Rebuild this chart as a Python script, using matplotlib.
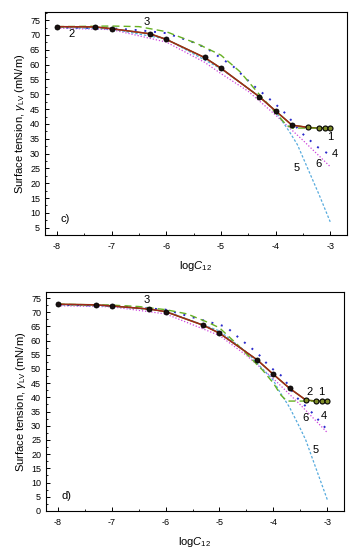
import matplotlib
matplotlib.use("Agg")
import matplotlib.pyplot as plt
from matplotlib.ticker import MultipleLocator

plt.rcParams['font.family'] = ['Liberation Sans', 'DejaVu Sans']
plt.rcParams['mathtext.fontset'] = 'custom'
plt.rcParams['mathtext.rm'] = 'Liberation Sans'
plt.rcParams['mathtext.it'] = 'Liberation Sans:italic'
plt.rcParams['mathtext.bf'] = 'Liberation Sans:bold'

# ---- data ----
logC = [-8, -7.3, -7, -6.3, -6, -5.3, -5, -4.3, -4, -3.7, -3.4, -3.2, -3.1, -3.0]

# panel c)
c_exp = [72.8, 72.7, 72.1, 70.4, 68.5, 62.4, 58.8, 49.2, 44.4, 39.6, 38.8, 38.6, 38.6, 38.6]
c_x3 = [-8, -7, -6.5, -6, -5.44, -5, -4.65, -4.3, -4, -3.8, -3.7, -3.0]
c_y3 = [72.8, 73.0, 72.8, 71.1, 67.1, 63.2, 57.6, 50.0, 43.8, 39.6, 38.6, 38.6]
c_x4 = [-8, -7, -6.5, -6, -5.5, -5.26, -4.77, -4.41, -4.16, -3.95, -3.79, -3.55, -3.24, -3.0]
c_y4 = [72.6, 72.2, 71.6, 70.6, 67.5, 65.5, 59.3, 53.0, 49.2, 45.8, 43.0, 37.4, 32.3, 29.5]
c_x5 = [-8, -7, -6, -5, -4.5, -4.2, -4, -3.9, -3.75, -3.6, -3.4, -3.2, -3.0]
c_y5 = [72.6, 72.0, 68.6, 58.6, 52.0, 47.8, 44.2, 41.5, 37.5, 33.0, 24.5, 16.0, 7.0]
c_x6 = [-8, -7, -6, -5.3, -5, -4.5, -4, -3.5, -3.0]
c_y6 = [72.3, 71.8, 67.6, 60.8, 57.0, 51.0, 43.0, 34.5, 25.6]

# panel d)
d_exp = [72.8, 72.6, 72.2, 71.1, 70.2, 65.4, 62.6, 53.2, 48.1, 43.2, 39.1, 38.7, 38.7, 38.7]
d_x3 = [-8, -7, -6.5, -6, -5.6, -5.2, -5, -4.69, -4.2, -4, -3.86, -3.75, -3.0]
d_y3 = [72.8, 72.5, 72.0, 70.9, 69.4, 66.3, 64.5, 59.0, 49.6, 45.0, 40.8, 38.7, 38.7]
d_x4 = [-8, -7, -6, -5.5, -4.88, -4.63, -4.29, -4.07, -3.83, -3.58, -3.33, -3.0]
d_y4 = [72.6, 72.3, 70.9, 68.2, 64.9, 60.8, 55.5, 50.8, 47.3, 40.2, 35.6, 28.5]
d_x5 = [-8, -7, -6, -5, -4.5, -4, -3.9, -3.7, -3.5, -3.4, -3.2, -3.0]
d_y5 = [72.6, 72.1, 70.4, 63.4, 56.0, 46.0, 42.5, 36.5, 29.0, 25.0, 14.5, 4.0]
d_x6 = [-8, -7, -6, -5, -4.5, -4, -3.5, -3.0]
d_y6 = [72.3, 71.9, 69.4, 61.8, 54.8, 46.6, 37.4, 27.6]

panels = [
    dict(exp=c_exp, x3=c_x3, y3=c_y3, x4=c_x4, y4=c_y4, x5=c_x5, y5=c_y5, x6=c_x6, y6=c_y6,
         ylim=(2.6, 77.7), yticks=list(range(5, 80, 5)), tag='c)', tagpos=(-7.93, 7.9),
         labels=[('3', -6.36, 74.3), ('2', -7.74, 70.2), ('1', -3.0, 35.7), ('4', -2.92, 29.8),
                 ('6', -3.21, 26.4), ('5', -3.61, 25.0)],
         pos=[0.128, 0.573, 0.861, 0.405], plat_start=10),
    dict(exp=d_exp, x3=d_x3, y3=d_y3, x4=d_x4, y4=d_y4, x5=d_x5, y5=d_y5, x6=d_x6, y6=d_y6,
         ylim=(0, 77.1), yticks=list(range(0, 80, 5)), tag='d)', tagpos=(-7.93, 5.4),
         labels=[('3', -6.36, 74.2), ('2', -3.33, 42.0), ('1', -3.12, 42.0), ('4', -3.06, 33.6),
                 ('6', -3.41, 32.8), ('5', -3.21, 21.5)],
         pos=[0.131, 0.071, 0.849, 0.398], plat_start=10),
]

fig = plt.figure(figsize=(3.51, 5.5), dpi=100)

for p in panels:
    ax = fig.add_axes(p['pos'])
    ax.plot(p['x6'], p['y6'], linestyle=(0, (1, 1.5)), color='#cc44dd', lw=0.9, zorder=2)
    ax.plot(p['x5'], p['y5'], linestyle=(0, (2, 1.5)), color='#55aadd', lw=0.9, zorder=2)
    ax.plot(p['x4'], p['y4'], linestyle=(0, (1, 4)), color='#2a2acc', lw=1.4, zorder=2)
    ax.plot(p['x3'], p['y3'], linestyle=(0, (5, 3)), color='#66b022', lw=1.0, zorder=3)
    ax.plot(logC, p['exp'], '-', color='#6b6b10', lw=1.1, zorder=4)
    ax.plot(logC[:p['plat_start'] + 1], p['exp'][:p['plat_start'] + 1], '-', color='#a0281a', lw=1.0, zorder=5)
    n = p['plat_start']
    ax.plot(logC[:n], p['exp'][:n], 'o', ms=3.6, mfc='#1a1010', mec='black', mew=0.6, zorder=6)
    ax.plot(logC[n:], p['exp'][n:], 'o', ms=3.6, mfc='#7f8c28', mec='black', mew=0.8, zorder=6)

    ax.set_xlim(-8.22, -2.69)
    ax.set_ylim(*p['ylim'])
    ax.set_xticks([-8, -7, -6, -5, -4, -3])
    ax.set_xticklabels(['-8', '-7', '-6', '-5', '-4', '-3'])
    ax.xaxis.set_minor_locator(MultipleLocator(0.5))
    ax.set_yticks(p['yticks'])
    ax.yaxis.set_minor_locator(MultipleLocator(2.5))
    ax.tick_params(which='both', direction='in', labelsize=6.5, top=False, right=False)
    ax.tick_params(which='major', length=3, width=0.7)
    ax.tick_params(which='minor', length=1.5, width=0.6)
    ax.tick_params(axis='x', pad=5)
    for s in ax.spines.values():
        s.set_linewidth(0.8)
    ax.set_xlabel(r'log$\mathit{C}_{\mathrm{12}}$', fontsize=8, labelpad=6)
    ax.set_ylabel(r'Surface tension, $\gamma_{\mathrm{LV}}$ (mN/m)', fontsize=8, labelpad=2)
    for t, x, y in p['labels']:
        ax.text(x, y, t, fontsize=8, ha='center', va='center', zorder=7)
    ax.text(p['tagpos'][0], p['tagpos'][1], p['tag'], fontsize=8, ha='left', va='center')

fig.savefig('out.png', dpi=100)
